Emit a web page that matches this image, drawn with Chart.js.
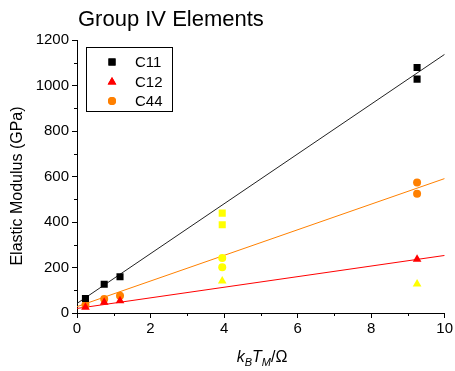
<!DOCTYPE html>
<html><head><meta charset="utf-8">
<script src="https://cdn.jsdelivr.net/npm/chart.js@4/dist/chart.umd.min.js"></script>
<style>html,body{margin:0;padding:0;background:#fff;}canvas{display:block;}</style>
</head><body>
<canvas id="c" width="455" height="371"></canvas>
<script>
// ---- data ----
const c11X = [0.23, 0.74, 1.17, 9.25, 9.25];
const c11Y = [64, 126, 159, 1079, 1028];
const c12X = [0.23, 0.74, 1.17, 9.25];
const c12Y = [25, 47, 54, 236];
const c44X = [0.23, 0.74, 1.17, 9.25, 9.25];
const c44Y = [35, 61, 76, 574, 524];
// yellow (unlabelled) points
const ySqX = [3.95, 3.95];   const ySqY = [439, 388];
const yCiX = [3.95, 3.95];   const yCiY = [242, 201];
const yTrX = [3.95, 9.25];   const yTrY = [141, 127];
// fit lines (end points)
const fitX = [0, 10];
const fit11Y = [42, 1137];
const fit12Y = [20, 253];
const fit44Y = [28, 591];
const xTicks = [0, 2, 4, 6, 8, 10];
const yTicks = [0, 200, 400, 600, 800, 1000, 1200];
const legendLabels = ['C11', 'C12', 'C44'];

const pts = (xs, ys) => xs.map((x, i) => ({x: x, y: ys[i]}));
const FONT = "'Liberation Sans', Arial, sans-serif";
const BLACK = '#000000', RED = '#ff0000', ORANGE = '#ff8000', YELLOW = '#ffff00';

function lineDs(ys, color) {
  return {type: 'line', data: pts(fitX, ys), borderColor: color, borderWidth: 1,
    pointRadius: 0, fill: false, order: 10, showLine: true};
}
function ptDs(label, xs, ys, color, style, r) {
  return {label: label, data: pts(xs, ys), backgroundColor: color, borderColor: color,
    borderWidth: 0, pointStyle: style, pointRadius: r, pointHoverRadius: r, order: 1, showLine: false};
}

const datasets = [
  ptDs(legendLabels[0], c11X, c11Y, BLACK, 'rect', 5),
  ptDs(legendLabels[1], c12X, c12Y, RED, 'triangle', 5),
  ptDs(legendLabels[2], c44X, c44Y, ORANGE, 'circle', 4),
  ptDs('', ySqX, ySqY, YELLOW, 'rect', 5),
  ptDs('', yCiX, yCiY, YELLOW, 'circle', 4),
  ptDs('', yTrX, yTrY, YELLOW, 'triangle', 5),
  lineDs(fit11Y, '#222222'),
  lineDs(fit12Y, RED),
  lineDs(fit44Y, ORANGE)
];

const decor = {
  id: 'decor',
  afterDraw(chart) {
    const ctx = chart.ctx, xs = chart.scales.x, ys = chart.scales.y;
    const ca = chart.chartArea;
    ctx.save();
    // minor ticks
    ctx.strokeStyle = '#000'; ctx.lineWidth = 1;
    ctx.beginPath();
    for (let v = 1; v < 10; v += 2) {
      const px = Math.round(xs.getPixelForValue(v)) + 0.5;
      ctx.moveTo(px, ca.bottom); ctx.lineTo(px, ca.bottom + 3);
    }
    for (let v = 100; v < 1200; v += 200) {
      const py = Math.round(ys.getPixelForValue(v)) + 0.5;
      ctx.moveTo(ca.left, py); ctx.lineTo(ca.left - 3, py);
    }
    ctx.stroke();
    // title
    ctx.fillStyle = '#000';
    ctx.font = '22px ' + FONT;
    ctx.textAlign = 'left'; ctx.textBaseline = 'alphabetic';
    ctx.fillText('Group IV Elements', 78, 26);
    // y axis title
    ctx.save();
    ctx.translate(22, 186);
    ctx.rotate(-Math.PI / 2);
    ctx.font = '16px ' + FONT;
    ctx.textAlign = 'center';
    ctx.fillText('Elastic Modulus (GPa)', 0, 0);
    ctx.restore();
    // x axis title: k_B T_M / Ω
    const parts = [
      {t: 'k', f: 'italic 16px ' + FONT, dy: 0},
      {t: 'B', f: 'italic 11px ' + FONT, dy: 4},
      {t: 'T', f: 'italic 16px ' + FONT, dy: 0},
      {t: 'M', f: 'italic 11px ' + FONT, dy: 4},
      {t: '/Ω', f: '16px ' + FONT, dy: 0}
    ];
    let total = 0;
    parts.forEach(p => { ctx.font = p.f; p.w = ctx.measureText(p.t).width; total += p.w; });
    let x = 262 - total / 2;
    const base = 362;
    ctx.textAlign = 'left';
    parts.forEach(p => { ctx.font = p.f; ctx.fillText(p.t, x, base + p.dy); x += p.w; });
    // legend
    ctx.strokeStyle = '#000'; ctx.lineWidth = 1;
    ctx.strokeRect(86.5, 47.5, 86, 64);
    const rows = [62, 82, 101];
    for (let i = 0; i < 3; i++) {
      const ds = chart.data.datasets[i];
      ctx.fillStyle = ds.backgroundColor; ctx.strokeStyle = ds.borderColor;
      Chart.helpers.drawPoint(ctx, {pointStyle: ds.pointStyle, radius: ds.pointRadius, rotation: 0, borderWidth: 0}, 112, rows[i]);
      ctx.fill();
      ctx.fillStyle = '#000';
      ctx.font = '15px ' + FONT;
      ctx.textBaseline = 'middle';
      ctx.fillText(legendLabels[i], 135, rows[i] + 1);
    }
    ctx.restore();
  }
};

new Chart(document.getElementById('c'), {
  type: 'scatter',
  data: {datasets: datasets},
  options: {
    responsive: false, animation: false,
    layout: {padding: {top: 40, right: 8, left: 0, bottom: 0}},
    plugins: {legend: {display: false}, tooltip: {enabled: false}, title: {display: false}},
    scales: {
      x: {
        type: 'linear', min: 0, max: 10,
        afterBuildTicks: s => { s.ticks = xTicks.map(v => ({value: v})); },
        afterFit: s => { s.height = 58; },
        grid: {display: true, drawOnChartArea: false, drawTicks: true, tickLength: 5, color: '#000', tickColor: '#000'},
        border: {display: true, color: '#000', width: 1},
        ticks: {color: '#000', font: {family: FONT, size: 15}, padding: 2, maxRotation: 0,
          callback: v => String(v)}
      },
      y: {
        type: 'linear', min: 0, max: 1200,
        afterBuildTicks: s => { s.ticks = yTicks.map(v => ({value: v})); },
        afterFit: s => { s.width = 77; },
        grid: {display: true, drawOnChartArea: false, drawTicks: true, tickLength: 5, color: '#000', tickColor: '#000'},
        border: {display: true, color: '#000', width: 1},
        ticks: {color: '#000', font: {family: FONT, size: 15}, padding: 3,
          callback: v => String(v)}
      }
    }
  },
  plugins: [decor]
});
</script>
</body></html>
